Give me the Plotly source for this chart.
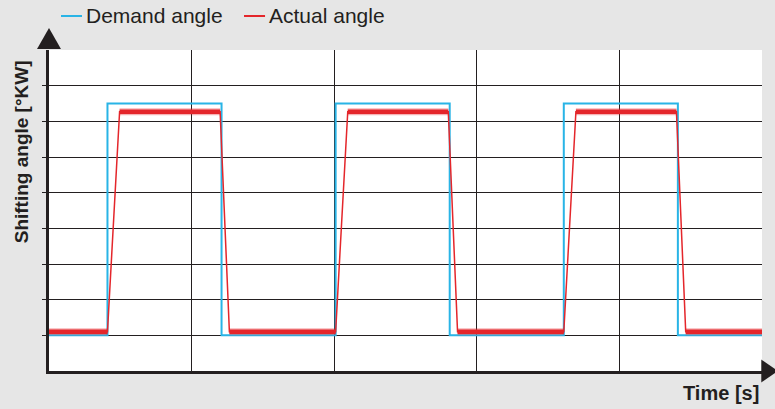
import plotly.graph_objects as go

# Demand angle: square pulses (time in grid divisions, angle in grid units)
demand_t = [0, 0.41, 0.41, 1.21, 1.21, 2.01, 2.01, 2.81, 2.81, 3.61, 3.61, 4.41, 4.41, 5.0]
demand_v = [1.0, 1.0, 7.5, 7.5, 1.0, 1.0, 7.5, 7.5, 1.0, 1.0, 7.5, 7.5, 1.0, 1.0]

# Actual angle: follows the demand with a short ramp and a slightly lower plateau
actual_t = [0, 0.41, 0.495, 1.20, 1.265, 2.01, 2.095, 2.80, 2.865, 3.61, 3.695, 4.40, 4.465, 5.0]
actual_v = [1.1, 1.1, 7.27, 7.27, 1.1, 1.1, 7.27, 7.27, 1.1, 1.1, 7.27, 7.27, 1.1, 1.1]

x_grid = [1, 2, 3, 4]
y_grid = [1, 2, 3, 4, 5, 6, 7, 8]

BLUE = "#29b4e6"
RED = "#e4262b"
INK = "#231f20"
BG = "#e6e6e6"

# Flat stretches of the actual angle are drawn heavier (measurement band)
flat_t, flat_v = [], []
for i in range(0, len(actual_t) - 1):
    if actual_v[i] == actual_v[i + 1]:
        flat_t += [actual_t[i], actual_t[i + 1], None]
        flat_v += [actual_v[i], actual_v[i + 1], None]

fig = go.Figure()
fig.add_trace(go.Scatter(x=demand_t, y=demand_v, mode="lines", name="Demand angle",
                         line=dict(color=BLUE, width=2), showlegend=False))
fig.add_trace(go.Scatter(x=actual_t, y=actual_v, mode="lines", name="Actual angle",
                         line=dict(color=RED, width=1.5), showlegend=False))
# soft fringe around the band, then the band itself
fig.add_trace(go.Scatter(x=flat_t, y=flat_v, mode="lines", name="Actual angle",
                         line=dict(color="rgba(228,38,43,0.35)", width=7), showlegend=False,
                         connectgaps=False))
fig.add_trace(go.Scatter(x=flat_t, y=flat_v, mode="lines", name="Actual angle",
                         line=dict(color=RED, width=4.5), showlegend=False,
                         connectgaps=False))

fig.update_xaxes(range=[0, 5], tickmode="array", tickvals=x_grid, showticklabels=False,
                 showgrid=True, gridcolor=INK, gridwidth=1.3, zeroline=False,
                 showline=True, linecolor=INK, linewidth=3, ticks="")
fig.update_yaxes(range=[0, 9], tickmode="array", tickvals=y_grid, showticklabels=False,
                 showgrid=True, gridcolor=INK, gridwidth=1.3, zeroline=False,
                 showline=True, linecolor=INK, linewidth=3,
                 ticks="outside", ticklen=4, tickcolor=INK, tickwidth=1)

font = "Liberation Sans, Arial, Helvetica, sans-serif"

# Axis arrows
shapes = [
    dict(type="path", xref="paper", yref="paper",
         path="M -0.0168 1.003 L 0.0168 1.003 L 0 1.0685 Z",
         fillcolor=INK, line=dict(width=0)),
    dict(type="path", xref="paper", yref="paper",
         path="M 0.999 0.0358 L 0.999 -0.0358 L 1.0224 0 Z",
         fillcolor=INK, line=dict(width=0)),
    # legend keys
    dict(type="line", xref="paper", yref="paper", x0=0.0168, x1=0.0463, y0=1.106, y1=1.106,
         line=dict(color=BLUE, width=2)),
    dict(type="line", xref="paper", yref="paper", x0=0.2735, x1=0.3030, y0=1.106, y1=1.106,
         line=dict(color=RED, width=2)),
]

annotations = [
    dict(text="Demand angle", xref="paper", yref="paper", x=0.049, y=1.106,
         xanchor="left", yanchor="middle", showarrow=False,
         font=dict(family=font, size=21, color=INK)),
    dict(text="Actual angle", xref="paper", yref="paper", x=0.3055, y=1.106,
         xanchor="left", yanchor="middle", showarrow=False,
         font=dict(family=font, size=21, color=INK)),
    dict(text="<b>Shifting angle [°KW]</b>", xref="paper", yref="paper", x=-0.039, y=0.682,
         xanchor="center", yanchor="middle", textangle=-90, showarrow=False,
         font=dict(family=font, size=19, color=INK)),
    dict(text="<b>Time [s]</b>", xref="paper", yref="paper", x=0.998, y=-0.068,
         xanchor="right", yanchor="middle", showarrow=False,
         font=dict(family=font, size=20, color=INK)),
]

fig.update_layout(
    width=775, height=409,
    margin=dict(l=49, r=13, t=50, b=38, pad=0),
    paper_bgcolor=BG, plot_bgcolor="white",
    shapes=shapes, annotations=annotations,
    showlegend=False,
)

fig.write_html("out.html")
